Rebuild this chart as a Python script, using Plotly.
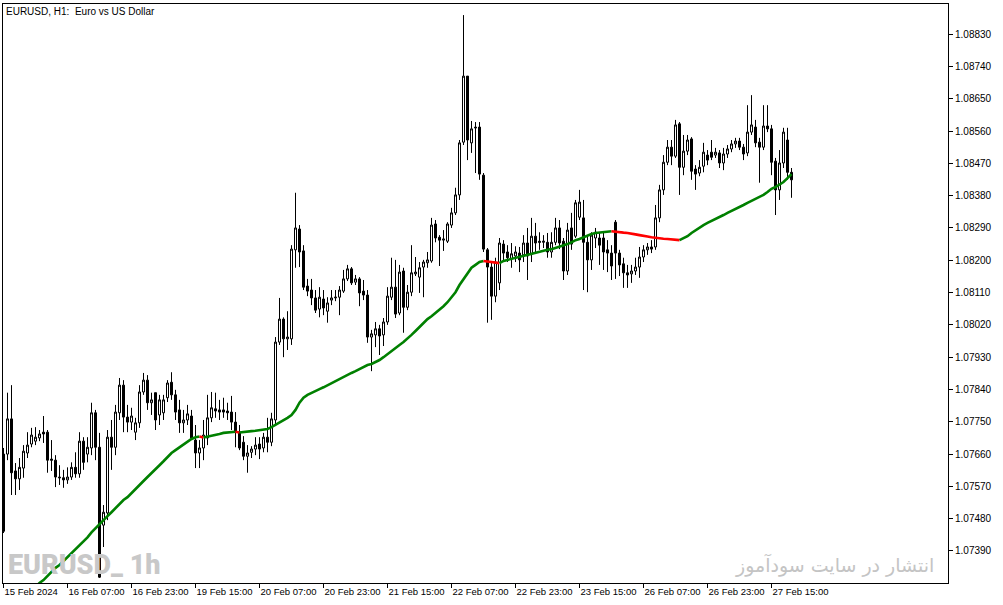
import plotly.graph_objects as go

# ---------------- data (EURUSD H1) ----------------
tick_labels = ["15 Feb 2024", "16 Feb 07:00", "16 Feb 23:00", "19 Feb 15:00", "20 Feb 07:00",
               "20 Feb 23:00", "21 Feb 15:00", "22 Feb 07:00", "22 Feb 23:00", "23 Feb 15:00",
               "26 Feb 07:00", "26 Feb 23:00", "27 Feb 15:00"]
tick_bars = [0, 16, 32, 48, 64, 80, 96, 112, 128, 144, 160, 176, 192]

opens = [
 1.07660, 1.07660, 1.07758, 1.07613, 1.07591, 1.07621, 1.07663, 1.07688, 1.07696, 1.07705,
 1.07721, 1.07721, 1.07646, 1.07643, 1.07596, 1.07594, 1.07588, 1.07596, 1.07623, 1.07605,
 1.07696, 1.07660, 1.07677, 1.07775, 1.07679, 1.07462, 1.07496, 1.07707, 1.07679, 1.07775,
 1.07852, 1.07763, 1.07749, 1.07721, 1.07747, 1.07833, 1.07866, 1.07803, 1.07831, 1.07769,
 1.07775, 1.07817, 1.07860, 1.07825, 1.07783, 1.07747, 1.07755, 1.07766, 1.07699, 1.07663,
 1.07677, 1.07705, 1.07761, 1.07786, 1.07783, 1.07783, 1.07780, 1.07777, 1.07749, 1.07721,
 1.07693, 1.07654, 1.07665, 1.07674, 1.07688, 1.07677, 1.07707, 1.07693, 1.07755, 1.07972,
 1.08036, 1.07981, 1.07981, 1.08229, 1.08287, 1.08226, 1.08128, 1.08117, 1.08095, 1.08064,
 1.08092, 1.08058, 1.08089, 1.08095, 1.08097, 1.08114, 1.08148, 1.08176, 1.08139, 1.08148,
 1.08114, 1.08103, 1.07986, 1.07992, 1.08009, 1.07992, 1.08028, 1.08097, 1.08125, 1.08053,
 1.08170, 1.08069, 1.08111, 1.08162, 1.08153, 1.08181, 1.08193, 1.08198, 1.08301, 1.08264,
 1.08256, 1.08253, 1.08298, 1.08332, 1.08382, 1.08529, 1.08713, 1.08527, 1.08571, 1.08571,
 1.08437, 1.08229, 1.08181, 1.08100, 1.08137, 1.08245, 1.08223, 1.08204, 1.08212, 1.08220,
 1.08215, 1.08248, 1.08218, 1.08267, 1.08253, 1.08250, 1.08250, 1.08223, 1.08250, 1.08290,
 1.08253, 1.08170, 1.08290, 1.08267, 1.08320, 1.08318, 1.08250, 1.08201, 1.08262, 1.08262,
 1.08262, 1.08229, 1.08220, 1.08306, 1.08220, 1.08190, 1.08165, 1.08162, 1.08170, 1.08181,
 1.08209, 1.08229, 1.08237, 1.08237, 1.08318, 1.08396, 1.08473, 1.08515, 1.08490, 1.08580,
 1.08459, 1.08504, 1.08538, 1.08454, 1.08443, 1.08462, 1.08493, 1.08501, 1.08493, 1.08499,
 1.08471, 1.08496, 1.08510, 1.08524, 1.08532, 1.08515, 1.08499, 1.08557, 1.08571, 1.08529,
 1.08515, 1.08574, 1.08566, 1.08476, 1.08396, 1.08471, 1.08535, 1.08445]

highs = [
 1.07677, 1.07831, 1.07852, 1.07635, 1.07649, 1.07685, 1.07721, 1.07733, 1.07735, 1.07727,
 1.07766, 1.07727, 1.07699, 1.07657, 1.07629, 1.07616, 1.07623, 1.07637, 1.07665, 1.07721,
 1.07707, 1.07707, 1.07803, 1.07783, 1.07719, 1.07518, 1.07727, 1.07755, 1.07797, 1.07872,
 1.07866, 1.07797, 1.07789, 1.07761, 1.07852, 1.07886, 1.07880, 1.07831, 1.07831, 1.07825,
 1.07825, 1.07866, 1.07888, 1.07839, 1.07811, 1.07783, 1.07797, 1.07783, 1.07741, 1.07699,
 1.07755, 1.07825, 1.07833, 1.07831, 1.07811, 1.07817, 1.07803, 1.07822, 1.07777, 1.07741,
 1.07710, 1.07685, 1.07682, 1.07707, 1.07707, 1.07719, 1.07761, 1.07775, 1.07986, 1.08095,
 1.08041, 1.08058, 1.08242, 1.08388, 1.08298, 1.08242, 1.08148, 1.08148, 1.08117, 1.08125,
 1.08117, 1.08097, 1.08117, 1.08117, 1.08128, 1.08173, 1.08187, 1.08181, 1.08159, 1.08153,
 1.08145, 1.08117, 1.08006, 1.08028, 1.08020, 1.08039, 1.08125, 1.08207, 1.08201, 1.08187,
 1.08179, 1.08131, 1.08242, 1.08209, 1.08195, 1.08201, 1.08223, 1.08318, 1.08312, 1.08270,
 1.08284, 1.08306, 1.08346, 1.08402, 1.08535, 1.08883, 1.08713, 1.08588, 1.08585, 1.08585,
 1.08443, 1.08234, 1.08195, 1.08207, 1.08262, 1.08256, 1.08242, 1.08248, 1.08239, 1.08237,
 1.08270, 1.08290, 1.08318, 1.08304, 1.08278, 1.08270, 1.08276, 1.08278, 1.08318, 1.08312,
 1.08262, 1.08304, 1.08332, 1.08368, 1.08396, 1.08368, 1.08270, 1.08278, 1.08290, 1.08278,
 1.08278, 1.08256, 1.08242, 1.08312, 1.08229, 1.08207, 1.08187, 1.08187, 1.08207, 1.08237,
 1.08242, 1.08248, 1.08256, 1.08354, 1.08410, 1.08493, 1.08535, 1.08535, 1.08591, 1.08585,
 1.08549, 1.08549, 1.08543, 1.08465, 1.08479, 1.08527, 1.08507, 1.08535, 1.08513, 1.08507,
 1.08513, 1.08521, 1.08535, 1.08541, 1.08541, 1.08524, 1.08632, 1.08660, 1.08591, 1.08541,
 1.08632, 1.08632, 1.08577, 1.08485, 1.08507, 1.08569, 1.08569, 1.08457]

lows = [
 1.07440, 1.07643, 1.07546, 1.07546, 1.07560, 1.07594, 1.07649, 1.07679, 1.07685, 1.07696,
 1.07691, 1.07608, 1.07613, 1.07568, 1.07574, 1.07566, 1.07577, 1.07588, 1.07594, 1.07594,
 1.07616, 1.07637, 1.07657, 1.07643, 1.07315, 1.07401, 1.07476, 1.07616, 1.07657, 1.07755,
 1.07721, 1.07721, 1.07727, 1.07699, 1.07733, 1.07825, 1.07783, 1.07769, 1.07727, 1.07741,
 1.07755, 1.07805, 1.07811, 1.07755, 1.07719, 1.07719, 1.07741, 1.07699, 1.07621, 1.07621,
 1.07643, 1.07685, 1.07749, 1.07761, 1.07755, 1.07761, 1.07755, 1.07727, 1.07679, 1.07671,
 1.07643, 1.07608, 1.07649, 1.07657, 1.07646, 1.07665, 1.07665, 1.07682, 1.07741, 1.07964,
 1.07930, 1.07950, 1.07964, 1.08179, 1.08181, 1.08117, 1.08100, 1.08075, 1.08053, 1.08041,
 1.08047, 1.08026, 1.08075, 1.08086, 1.08047, 1.08109, 1.08142, 1.08131, 1.08131, 1.08072,
 1.08089, 1.07970, 1.07891, 1.07958, 1.07936, 1.07961, 1.08020, 1.08089, 1.08039, 1.08047,
 1.07998, 1.08061, 1.08100, 1.08156, 1.08109, 1.08097, 1.08179, 1.08193, 1.08250, 1.08184,
 1.08226, 1.08248, 1.08290, 1.08326, 1.08368, 1.08521, 1.08479, 1.08499, 1.08443, 1.08424,
 1.08223, 1.08026, 1.08034, 1.08083, 1.08117, 1.08195, 1.08195, 1.08179, 1.08195, 1.08167,
 1.08195, 1.08145, 1.08195, 1.08223, 1.08229, 1.08234, 1.08207, 1.08207, 1.08242, 1.08231,
 1.08145, 1.08159, 1.08229, 1.08262, 1.08312, 1.08117, 1.08111, 1.08173, 1.08234, 1.08187,
 1.08173, 1.08167, 1.08145, 1.08148, 1.08156, 1.08123, 1.08123, 1.08137, 1.08159, 1.08151,
 1.08195, 1.08215, 1.08220, 1.08229, 1.08306, 1.08382, 1.08465, 1.08465, 1.08485, 1.08382,
 1.08437, 1.08493, 1.08424, 1.08396, 1.08434, 1.08445, 1.08465, 1.08479, 1.08485, 1.08457,
 1.08451, 1.08485, 1.08501, 1.08513, 1.08507, 1.08479, 1.08490, 1.08549, 1.08515, 1.08416,
 1.08507, 1.08557, 1.08437, 1.08326, 1.08368, 1.08457, 1.08424, 1.08374]

closes = [
 1.07445, 1.07758, 1.07608, 1.07591, 1.07623, 1.07668, 1.07685, 1.07713, 1.07707, 1.07716,
 1.07716, 1.07643, 1.07643, 1.07596, 1.07594, 1.07588, 1.07596, 1.07623, 1.07605, 1.07696,
 1.07637, 1.07679, 1.07775, 1.07679, 1.07317, 1.07498, 1.07707, 1.07679, 1.07777, 1.07852,
 1.07763, 1.07749, 1.07766, 1.07747, 1.07833, 1.07866, 1.07803, 1.07811, 1.07755, 1.07811,
 1.07811, 1.07858, 1.07825, 1.07777, 1.07747, 1.07755, 1.07772, 1.07705, 1.07663, 1.07677,
 1.07713, 1.07761, 1.07789, 1.07780, 1.07777, 1.07777, 1.07775, 1.07749, 1.07721, 1.07677,
 1.07654, 1.07663, 1.07674, 1.07685, 1.07674, 1.07707, 1.07693, 1.07758, 1.07972, 1.08036,
 1.07981, 1.07986, 1.08231, 1.08290, 1.08223, 1.08125, 1.08114, 1.08095, 1.08061, 1.08097,
 1.08067, 1.08081, 1.08095, 1.08097, 1.08117, 1.08148, 1.08176, 1.08137, 1.08148, 1.08109,
 1.08103, 1.07986, 1.07995, 1.08009, 1.07989, 1.08028, 1.08100, 1.08125, 1.08050, 1.08167,
 1.08069, 1.08111, 1.08165, 1.08167, 1.08179, 1.08195, 1.08201, 1.08298, 1.08262, 1.08256,
 1.08259, 1.08301, 1.08332, 1.08382, 1.08527, 1.08713, 1.08535, 1.08566, 1.08569, 1.08440,
 1.08231, 1.08181, 1.08100, 1.08195, 1.08248, 1.08220, 1.08207, 1.08218, 1.08223, 1.08201,
 1.08248, 1.08212, 1.08267, 1.08248, 1.08250, 1.08253, 1.08223, 1.08250, 1.08290, 1.08248,
 1.08170, 1.08284, 1.08245, 1.08360, 1.08362, 1.08250, 1.08201, 1.08270, 1.08278, 1.08242,
 1.08223, 1.08220, 1.08184, 1.08220, 1.08187, 1.08165, 1.08159, 1.08170, 1.08181, 1.08209,
 1.08229, 1.08237, 1.08231, 1.08318, 1.08396, 1.08473, 1.08515, 1.08490, 1.08577, 1.08459,
 1.08504, 1.08535, 1.08448, 1.08440, 1.08459, 1.08501, 1.08479, 1.08487, 1.08501, 1.08471,
 1.08496, 1.08510, 1.08524, 1.08532, 1.08515, 1.08496, 1.08557, 1.08577, 1.08527, 1.08515,
 1.08574, 1.08566, 1.08473, 1.08396, 1.08471, 1.08557, 1.08445, 1.08424]

moving_avg = [None] * 8 + [
 1.07289, 1.07301,
 1.07309, 1.07320, 1.07331, 1.07343, 1.07351, 1.07362, 1.07373, 1.07385, 1.07396, 1.07407,
 1.07418, 1.07428, 1.07442, 1.07454, 1.07465, 1.07476, 1.07487, 1.07498, 1.07510, 1.07521,
 1.07532, 1.07540, 1.07552, 1.07563, 1.07574, 1.07585, 1.07596, 1.07608, 1.07618, 1.07629,
 1.07640, 1.07651, 1.07663, 1.07671, 1.07679, 1.07688, 1.07696, 1.07702, 1.07707, 1.07709,
 1.07706, 1.07708, 1.07710, 1.07713, 1.07716, 1.07719, 1.07720, 1.07721, 1.07722, 1.07720,
 1.07722, 1.07723, 1.07724, 1.07725, 1.07726, 1.07727, 1.07730, 1.07735, 1.07741, 1.07749,
 1.07755, 1.07761, 1.07769, 1.07783, 1.07803, 1.07817, 1.07825, 1.07831, 1.07836, 1.07841,
 1.07846, 1.07852, 1.07858, 1.07863, 1.07869, 1.07874, 1.07880, 1.07886, 1.07891, 1.07897,
 1.07902, 1.07908, 1.07911, 1.07916, 1.07922, 1.07930, 1.07939, 1.07947, 1.07956, 1.07964,
 1.07972, 1.07981, 1.07992, 1.08003, 1.08014, 1.08026, 1.08036, 1.08044, 1.08053, 1.08061,
 1.08072, 1.08083, 1.08097, 1.08111, 1.08131, 1.08148, 1.08165, 1.08179, 1.08187, 1.08195,
 1.08198, 1.08196, 1.08195, 1.08193, 1.08192, 1.08198, 1.08201, 1.08204, 1.08207, 1.08209,
 1.08212, 1.08215, 1.08218, 1.08220, 1.08223, 1.08226, 1.08229, 1.08231, 1.08234, 1.08237,
 1.08240, 1.08245, 1.08250, 1.08256, 1.08259, 1.08264, 1.08270, 1.08273, 1.08276, 1.08277,
 1.08278, 1.08279, 1.08281, 1.08279, 1.08278, 1.08277, 1.08276, 1.08273, 1.08272, 1.08270,
 1.08267, 1.08266, 1.08264, 1.08262, 1.08261, 1.08260, 1.08259, 1.08258, 1.08257, 1.08256,
 1.08262, 1.08267, 1.08276, 1.08284, 1.08292, 1.08298, 1.08304, 1.08309, 1.08315, 1.08320,
 1.08326, 1.08332, 1.08337, 1.08343, 1.08348, 1.08354, 1.08360, 1.08365, 1.08371, 1.08376,
 1.08382, 1.08390, 1.08399, 1.08404, 1.08410, 1.08418, 1.08429, 1.08440]

price_ticks_start = 1.07390
price_ticks_step = 0.00090

# ---------------- figure ----------------
bars = list(range(len(closes)))
UP_COL, DOWN_COL = "#008000", "#ff0000"
FONT = "Liberation Sans, Arial, sans-serif"

fig = go.Figure()
fig.add_trace(go.Candlestick(
    x=bars, open=opens, high=highs, low=lows, close=closes,
    increasing=dict(fillcolor="#ffffff", line=dict(color="#000000", width=1)),
    decreasing=dict(fillcolor="#000000", line=dict(color="#000000", width=1)),
    whiskerwidth=0, showlegend=False, hoverinfo="skip"))

# moving average, green while rising, red while falling
runs = []
prev = None
for i, v in enumerate(moving_avg):
    if v is None:
        continue
    if prev is not None:
        col = DOWN_COL if v < prev[1] else UP_COL
        if not runs or runs[-1][0] != col:
            runs.append([col, [prev[0]], [prev[1]]])
        runs[-1][1].append(i)
        runs[-1][2].append(v)
    prev = (i, v)
for col, xs, ys in runs:
    fig.add_trace(go.Scatter(x=xs, y=ys, mode="lines", line=dict(color=col, width=2.6),
                             showlegend=False, hoverinfo="skip"))

n_ticks = 17
price_ticks = [round(price_ticks_start + k * price_ticks_step, 5) for k in range(n_ticks)]

fig.update_layout(
    width=1003, height=605,
    margin=dict(l=3, r=55, t=4, b=22, autoexpand=False),
    paper_bgcolor="#ffffff", plot_bgcolor="#ffffff",
    boxgap=0.5, boxgroupgap=0,
    showlegend=False,
    xaxis=dict(range=[-0.125, 236.125], rangeslider=dict(visible=False),
               tickvals=tick_bars, ticktext=tick_labels, tickangle=0, automargin=False,
               ticks="outside", ticklen=4, tickcolor="#000000", tickwidth=1,
               ticklabelposition="outside right",
               showline=True, linecolor="#000000", linewidth=1, mirror=True,
               showgrid=False, zeroline=False,
               tickfont=dict(family=FONT, size=9.5, color="#000000")),
    yaxis=dict(side="right", range=[1.073008, 1.089139], automargin=False,
               tickvals=price_ticks, tickformat=".5f",
               ticks="outside", ticklen=4, tickcolor="#000000", tickwidth=1,
               showline=True, linecolor="#000000", linewidth=1, mirror=True,
               showgrid=False, zeroline=False,
               tickfont=dict(family=FONT, size=10, color="#000000")),
    annotations=[
        dict(text="EURUSD, H1: \u00a0Euro vs US Dollar", xref="paper", yref="paper",
             x=0, y=1, xanchor="left", yanchor="top", xshift=1, yshift=0,
             showarrow=False, font=dict(family=FONT, size=10, color="#000000")),
        dict(text="EURUSD_ 1h", xref="paper", yref="paper",
             x=0, y=0, xanchor="left", yanchor="bottom", xshift=3, yshift=0,
             showarrow=False,
             font=dict(family="Roboto, Liberation Sans, Arial", size=27, weight=900,
                       color="#c8c8c8")),
        dict(text="انتشار در سایت سودآموز", xref="paper", yref="paper",
             x=1, y=0, xanchor="right", yanchor="bottom", xshift=-12, yshift=4,
             showarrow=False,
             font=dict(family="DejaVu Sans, sans-serif", size=19, color="#c4c4c4")),
    ],
)

fig.write_html("out.html", config={"displayModeBar": False},
               post_script="document.body.style.margin='0';")
